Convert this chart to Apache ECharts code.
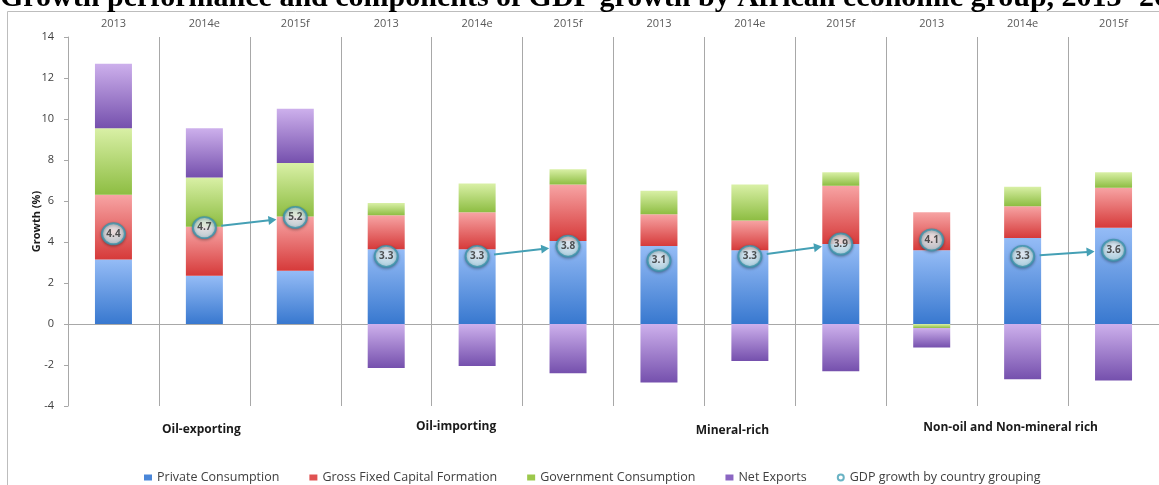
<!DOCTYPE html>
<html>
<head>
<meta charset="utf-8">
<script src="https://cdn.jsdelivr.net/npm/echarts@6/dist/echarts.min.js"></script>
<style>html,body{margin:0;padding:0;background:#fff;}#c{width:1159px;height:485px;}</style>
</head>
<body>
<div id="c"></div>
<script>
// ---- data ----
const years = ['2013', '2014e', '2015f', '2013', '2014e', '2015f', '2013', '2014e', '2015f', '2013', '2014e', '2015f'];
const groups = ['Oil-exporting', 'Oil-importing', 'Mineral-rich', 'Non-oil and Non-mineral rich'];
const privateConsumption = [3.15, 2.35, 2.6, 3.65, 3.65, 4.05, 3.8, 3.6, 3.9, 3.6, 4.2, 4.7];
const grossFixedCapital = [3.15, 2.4, 2.65, 1.65, 1.8, 2.75, 1.55, 1.45, 2.85, 1.85, 1.55, 1.95];
const governmentConsumption = [3.25, 2.4, 2.6, 0.6, 1.4, 0.75, 1.15, 1.75, 0.65, -0.2, 0.95, 0.75];
const netExports = [3.15, 2.4, 2.65, -2.15, -2.05, -2.4, -2.85, -1.8, -2.3, -0.95, -2.7, -2.75];
const gdpGrowth = [4.4, 4.7, 5.2, 3.3, 3.3, 3.8, 3.1, 3.3, 3.9, 4.1, 3.3, 3.6];
const yTicks = { min: -4, max: 14, interval: 2 };
const seriesNames = ['Private Consumption', 'Gross Fixed Capital Formation', 'Government Consumption', 'Net Exports', 'GDP growth by country grouping'];

// arrows from 2014e to 2015f within each group
const arrows = groups.map((g, i) => [i * 3 + 1, gdpGrowth[i * 3 + 1], i * 3 + 2, gdpGrowth[i * 3 + 2]]);

const grad = (top, bottom) => new echarts.graphic.LinearGradient(0, 0, 0, 1, [
  { offset: 0, color: top }, { offset: 1, color: bottom }
]);
const barColors = [
  grad('#95bcf6', '#3878cf'),
  grad('#f7a4a4', '#d63a3a'),
  grad('#d9f0a6', '#8dbd42'),
  grad('#cdb0ec', '#7550ad')
];
const legendColors = ['#4a86d8', '#e05252', '#9cc84c', '#8b66c2'];
const font = 'Open Sans';
const teal = '#45a0b5';

const chart = echarts.init(document.getElementById('c'), null, { renderer: 'canvas' });

const barSeries = [privateConsumption, grossFixedCapital, governmentConsumption, netExports].map((d, i) => ({
  name: seriesNames[i],
  type: 'bar',
  stack: 'total',
  xAxisIndex: 0,
  barWidth: 37,
  data: d,
  itemStyle: { color: barColors[i] },
  z: 2
}));

chart.setOption({
  animation: false,
  textStyle: { fontFamily: font },
  grid: { left: 68, top: 37, width: 1092, height: 369, containLabel: false },
  graphic: [
    {
      type: 'polyline', silent: true, z: 0,
      shape: { points: [[7.5, 485], [7.5, 11.5], [1159, 11.5]] },
      style: { stroke: '#bdbdbd', lineWidth: 1, fill: null }
    },
    {
      type: 'text', left: 0, top: -17, z: 10,
      style: {
        text: 'Growth performance and components of GDP growth by African economic group, 2013- 2015',
        font: 'bold 30px "Liberation Serif", "Times New Roman", serif',
        fill: '#000'
      }
    }
  ],
  legend: {
    left: 139, top: 466,
    itemWidth: 8, itemHeight: 6, itemGap: 30,
    textStyle: { fontFamily: font, fontSize: 12.5, color: '#404040' },
    data: [
      { name: seriesNames[0], icon: 'rect', itemStyle: { color: legendColors[0] } },
      { name: seriesNames[1], icon: 'rect', itemStyle: { color: legendColors[1] } },
      { name: seriesNames[2], icon: 'rect', itemStyle: { color: legendColors[2] } },
      { name: seriesNames[3], icon: 'rect', itemStyle: { color: legendColors[3] } },
      { name: seriesNames[4], icon: 'circle', itemStyle: { color: '#ffffff', borderColor: teal, borderWidth: 2 } }
    ]
  },
  xAxis: [
    {
      type: 'category', data: years, position: 'bottom',
      axisLine: { onZero: true, lineStyle: { color: '#a8a8a8', width: 1 } },
      axisTick: { show: false }, axisLabel: { show: false },
      splitLine: { show: true, interval: 0, lineStyle: { color: '#a8a8a8', width: 1 } }
    },
    {
      type: 'category', data: years, position: 'top',
      axisLine: { show: false, onZero: false }, axisTick: { show: false },
      axisLabel: { interval: 0, margin: 8, fontFamily: font, fontSize: 11, color: '#595959' }
    },
    {
      type: 'category', data: groups, position: 'bottom',
      axisLine: { show: false, onZero: false }, axisTick: { show: false },
      axisLabel: {
        interval: 0, margin: 15,
        fontFamily: font, fontSize: 12, fontWeight: 'bold', color: '#1a1a1a',
        formatter: (v, i) => '{g' + i + '|' + v + '}',
        rich: {
          g0: { fontFamily: font, fontSize: 12, fontWeight: 'bold', color: '#1a1a1a', padding: [3, 6, 0, 0] },
          g1: { fontFamily: font, fontSize: 12, fontWeight: 'bold', color: '#1a1a1a', padding: [0, 42, 0, 0] },
          g2: { fontFamily: font, fontSize: 12, fontWeight: 'bold', color: '#1a1a1a', padding: [4, 35, 0, 0] },
          g3: { fontFamily: font, fontSize: 12, fontWeight: 'bold', color: '#1a1a1a', padding: [1, 24, 0, 0] }
        }
      }
    }
  ],
  yAxis: {
    type: 'value', min: yTicks.min, max: yTicks.max, interval: yTicks.interval,
    name: 'Growth (%)', nameLocation: 'middle', nameGap: 26, nameMoveOverlap: false,
    nameTextStyle: { fontFamily: font, fontSize: 11, fontWeight: 'bold', color: '#1a1a1a' },
    axisLine: { show: true, lineStyle: { color: '#a8a8a8' } },
    axisTick: { show: true, length: 4, lineStyle: { color: '#a8a8a8' } },
    axisLabel: { margin: 14, fontFamily: font, fontSize: 11, color: '#404040' },
    splitLine: { show: false }
  },
  series: [
    ...barSeries,
    {
      name: 'arrows', type: 'custom', xAxisIndex: 0, z: 4, silent: true,
      encode: { x: [0, 2], y: [1, 3] },
      data: arrows,
      renderItem: (params, api) => {
        const a = api.coord([api.value(0), api.value(1)]);
        const b = api.coord([api.value(2), api.value(3)]);
        let dx = b[0] - a[0], dy = b[1] - a[1];
        const L = Math.hypot(dx, dy); dx /= L; dy /= L;
        const s = [a[0] + dx * 17, a[1] + dy * 17];
        const e = [b[0] - dx * 19, b[1] - dy * 19];
        const ah = 8, aw = 4.5;
        const base = [e[0] - dx * ah, e[1] - dy * ah];
        const nx = -dy, ny = dx;
        return {
          type: 'group', children: [
            { type: 'line', shape: { x1: s[0], y1: s[1], x2: base[0] + dx, y2: base[1] + dy }, style: { stroke: teal, lineWidth: 2 } },
            { type: 'polygon', shape: { points: [e, [base[0] + nx * aw, base[1] + ny * aw], [base[0] - nx * aw, base[1] - ny * aw]] }, style: { fill: teal } }
          ]
        };
      }
    },
    {
      name: seriesNames[4], type: 'scatter', xAxisIndex: 0, z: 5,
      symbol: 'circle', symbolSize: [23, 21],
      data: gdpGrowth,
      itemStyle: {
        color: new echarts.graphic.RadialGradient(0.5, 0.4, 0.6, [
          { offset: 0, color: '#ffffff' }, { offset: 1, color: '#b9e2ec' }
        ]),
        borderColor: '#3b93ab', borderWidth: 2,
        shadowColor: 'rgba(0,0,0,0.35)', shadowBlur: 3, shadowOffsetY: 1
      },
      label: {
        show: true, position: 'inside',
        formatter: p => p.value.toFixed(1),
        fontFamily: font, fontSize: 10, fontWeight: 'bold', color: '#2a2a2a'
      }
    }
  ]
});
</script>
</body>
</html>
